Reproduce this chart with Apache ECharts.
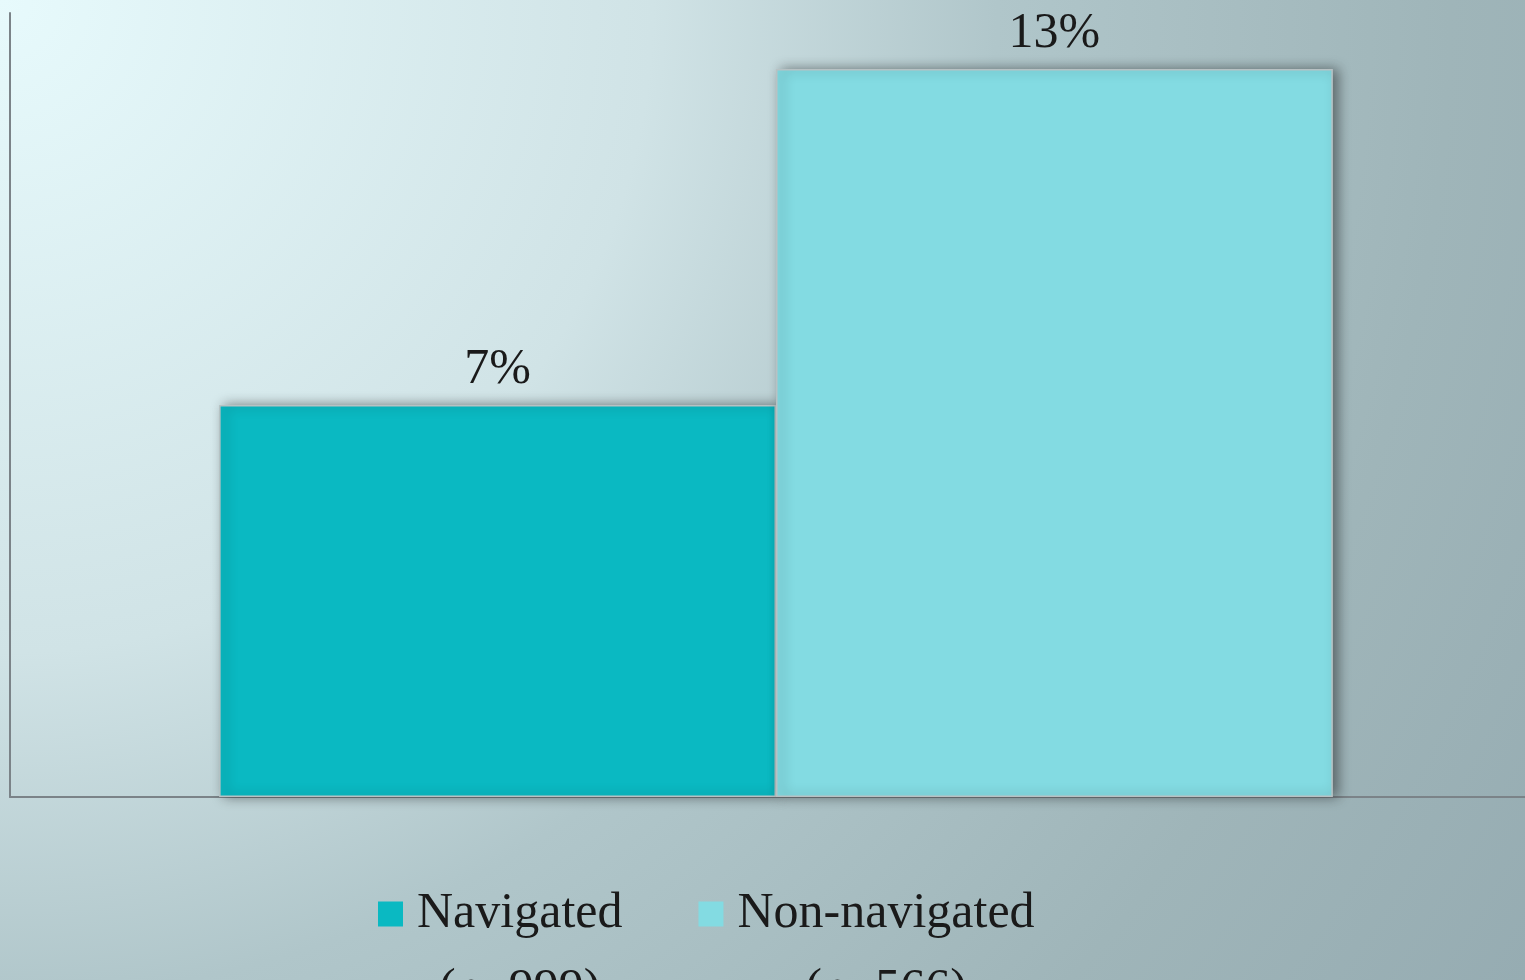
<!DOCTYPE html>
<html><head><meta charset="utf-8">
<script src="https://cdn.jsdelivr.net/npm/echarts@6/dist/echarts.min.js"></script>
<style>html,body{margin:0;padding:0;overflow:hidden;} #c{width:1525px;height:980px;}</style>
</head><body><div id="c"></div>
<script>
const categories = [''];
const seriesNames = ['Navigated', 'Non-navigated'];
const sampleSizes = ['(n=999)', '(n=566)'];
const navigatedValues = [7];
const nonNavigatedValues = [13];
const yMin = 0;
const yMax = 14;

const chart = echarts.init(document.getElementById('c'), null, {renderer: 'canvas'});
const serif = "'Liberation Serif', 'DejaVu Serif', serif";
const barBase = {
  type: 'bar',
  barGap: '0%',
  barCategoryGap: '27.3%',
  label: {show: true, position: 'top', distance: 10, formatter: '{c}%', fontFamily: serif, fontSize: 50, color: '#1a1a1a'}
};
const shadow = {borderColor: '#b8c1c3', borderWidth: 1.5, shadowColor: 'rgba(0,0,0,0.45)', shadowBlur: 12, shadowOffsetX: 5, shadowOffsetY: 0};
const option = {
  backgroundColor: '#c0d4d8',
  animation: false,
  graphic: [{
    type: 'rect', z: -100, silent: true,
    shape: {x: 0, y: 0, width: 1525, height: 980},
    style: {fill: new echarts.graphic.RadialGradient(0, 0, 1.85, [
      {offset: 0, color: '#e7fafc'},
      {offset: 0.36, color: '#d0e3e6'},
      {offset: 0.55, color: '#b0c6ca'},
      {offset: 0.8, color: '#9fb5b9'},
      {offset: 1, color: '#96acb2'}
    ])}
  }],
  grid: {left: 10, right: -17, top: 13, bottom: 183, containLabel: false, outerBoundsMode: 'none'},
  xAxis: {type: 'category', data: categories,
    axisLine: {show: true, lineStyle: {color: '#7b8388', width: 2}},
    axisTick: {show: false}, axisLabel: {show: false}, splitLine: {show: false}},
  yAxis: {type: 'value', min: yMin, max: yMax,
    axisLine: {show: true, lineStyle: {color: '#7b8388', width: 2}},
    axisTick: {show: false}, axisLabel: {show: false}, splitLine: {show: false}},
  legend: {
    left: 378, top: 800, padding: 0, itemWidth: 25, itemHeight: 25, itemGap: 76, icon: 'rect',
    itemStyle: {borderWidth: 0, shadowBlur: 0, shadowColor: 'transparent'},
    data: seriesNames,
    formatter: function (name) {
      const i = seriesNames.indexOf(name);
      return '{s| }\n{t|' + name + '}\n{n|' + sampleSizes[i] + '}';
    },
    textStyle: {
      fontFamily: serif, fontSize: 50, color: '#1a1a1a', lineHeight: 76,
      rich: {
        s: {fontFamily: serif, fontSize: 50, lineHeight: 76, color: '#1a1a1a'},
        t: {fontFamily: serif, fontSize: 50, lineHeight: 76, color: '#1a1a1a', padding: [0, 0, 0, 9]},
        n: {fontFamily: serif, fontSize: 50, lineHeight: 76, color: '#1a1a1a', align: 'center', padding: [0, 0, 0, 9]}
      }
    }
  },
  series: [
    Object.assign({}, barBase, {name: seriesNames[0], data: navigatedValues, itemStyle: Object.assign({color: '#0ab9c2'}, shadow)}),
    Object.assign({}, barBase, {name: seriesNames[1], data: nonNavigatedValues, itemStyle: Object.assign({color: '#83dbe2'}, shadow)})
  ]
};
chart.setOption(option);
</script>
</body></html>
